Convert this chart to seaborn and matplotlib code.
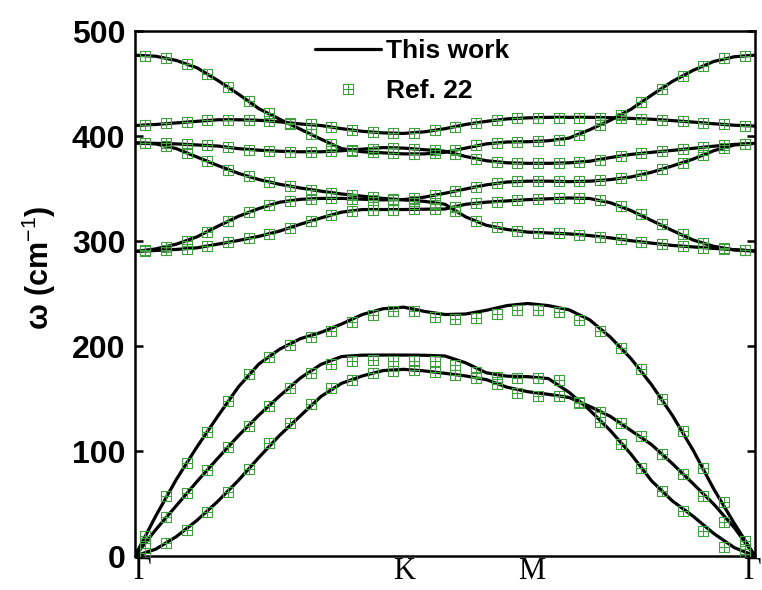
import numpy as np
import seaborn as sns
import matplotlib.pyplot as plt
from matplotlib.path import Path
from matplotlib.lines import Line2D
from matplotlib.transforms import ScaledTranslation

# k-path sampling (fraction of the Gamma-K-M-Gamma path)
q = np.linspace(0, 1, 31)
q_ref = (np.arange(30) + 0.5) / 30

kpoint_pos = [0, 0.4226, 0.634, 1.0]
kpoint_names = ['\u0393', 'K', 'M', '\u0393']

# this work (lines), cm-1
la = [0, 38, 73, 104, 133, 161, 183, 197, 207, 213, 221, 230, 235.5, 237, 233, 230,
      230.5, 234, 238.5, 240.5, 238.5, 234.5, 225, 208.5, 188, 163, 134, 101, 64, 31, 0]
ta = [0, 25, 48, 71, 93, 114.5, 134.3, 152.5, 169.5, 182.5, 190, 191.3, 191.4, 191.4, 191.2,
      190.5, 184, 174.5, 171.3, 170.8, 169, 156, 139, 119.5, 97, 71.5, 52.5, 38, 21.5, 8, 0]
za = [0, 6.5, 18.5, 34, 52, 72, 94, 115, 133.5, 152, 164.5, 171.5, 176.6, 177.8, 176.3, 174,
      171.5, 168, 160.8, 156.5, 154, 151, 142.5, 133, 119.5, 106, 88, 69, 49.5, 27, 0]
opt_a = [477, 476, 472, 465, 453, 440, 426, 416, 406.5, 397, 388, 385, 384, 383, 383, 384.5,
         388.5, 392.5, 394.3, 394.6, 395.5, 398, 406, 415, 425.5, 439, 452, 462.5, 471, 475.5, 477]
opt_b = [393.5, 393, 392.5, 391.5, 390.5, 388, 386.5, 385.5, 385, 385, 386, 387.5, 389, 388.5, 387,
         385.5, 380.5, 376.5, 374.5, 374, 374, 374.5, 376, 379.5, 382.5, 384.5, 386.3, 388.3, 390.3, 392, 393]
opt_c = [410, 411, 412.5, 414, 415.5, 415.5, 415, 413.5, 411.5, 410, 407, 404.5, 403, 402.5, 404,
         407, 411, 414, 416.3, 417.3, 417.8, 417.8, 417.8, 417.5, 416.8, 416, 414.7, 413.3, 411.7, 410.3, 409.5]
opt_d = [393.5, 392.5, 388, 380, 372, 364.5, 358.5, 354, 350.5, 347.5, 344.8, 342.7, 340.6, 339.2, 337.8,
         335, 323, 315, 311, 308.5, 307.7, 306.8, 305.2, 303, 300.3, 298, 295.8, 294.4, 293, 291.8, 290.5]
opt_e = [290, 292.5, 297, 304, 314, 323.5, 331, 337, 339.7, 340.6, 340.6, 339.8, 339.2, 339.5, 341.8,
         345.5, 349.6, 353.5, 356.2, 357, 357, 356.6, 357, 358.5, 361, 365.5, 371.5, 378, 386, 391.5, 393]
opt_f = [290, 291, 292, 293.5, 297, 300.5, 304.5, 309.5, 316, 322, 327.5, 330, 330, 330, 330.3,
         330.5, 335, 337, 338.2, 339.4, 340.2, 341, 340.5, 336.5, 329, 319.5, 310, 301, 295, 291.5, 290.5]

# Ref. 22 (markers), cm-1
ref_la = [19, 57, 89, 118, 148, 173, 190, 201, 208.5, 214.5, 222.5, 230, 233, 233, 228,
          225.5, 227, 230.5, 234, 234.5, 232, 225, 214, 198, 178, 150, 119, 84, 51, 14]
ref_ta = [12, 37, 60, 82, 104, 124, 143, 160, 174, 183, 186, 186.5, 186, 186, 185.5,
          182, 175, 170.5, 170, 170, 168, 146, 128, 107, 84, 62, 42.5, 24, 8.5, 1.5]
ref_za = [3, 12, 25, 42, 61, 83, 108, 127, 145, 160, 168, 174, 176.5, 177, 175,
          172.5, 170, 164, 155, 152.5, 152, 147, 137, 126.5, 114, 97, 78.5, 57, 32, 7]
ref_a = [476.5, 474.5, 469, 459.5, 447, 433.5, 421.5, 411.5, 401.5, 392.5, 386, 384.5, 383.5, 383, 383.5,
         386.5, 391, 393.5, 394.5, 395, 396.5, 401, 410.5, 420.5, 432, 445, 457, 467, 474, 476.5]
ref_b = [393.5, 393, 392, 391, 389.5, 387, 386, 385, 385, 385.5, 386.5, 388, 389, 388, 386.5,
         383, 378.5, 375.5, 374, 374, 374, 375, 377.5, 381, 383.5, 385.5, 387.3, 389.3, 391.2, 392.5]
ref_c = [410.5, 412, 413.5, 415, 415.5, 415.5, 414.5, 412.5, 411, 408.5, 405.5, 403.5, 402.5, 403, 405.5,
         409, 412.5, 415.5, 417, 417.5, 417.5, 417.5, 417.5, 417, 416.5, 415.5, 414, 412.5, 411, 410]
ref_d = [393, 390.5, 384, 376, 368, 361.5, 356, 352, 349, 346, 343.7, 341.5, 340, 338.5, 336.5,
         329, 319, 313, 309.5, 308, 307.3, 306, 304, 301.7, 299, 297, 295, 293.7, 292.3, 291]
ref_e = [291, 294.5, 300.5, 309, 319, 327.5, 334.5, 338.5, 340.2, 340.6, 340.2, 339.5, 339.3, 340.6, 343.7,
         347.5, 351.5, 355, 356.7, 357, 356.8, 356.8, 357.7, 359.7, 363, 368.5, 374.5, 382, 389, 392.5]
ref_f = [290.5, 291.5, 292.7, 295, 298.7, 302.5, 307, 312.7, 319, 325, 329, 330, 330, 330.2, 330.2,
         332.5, 336, 337.6, 338.8, 339.8, 340.6, 340.8, 338.8, 333.5, 325.5, 316, 306.5, 298.5, 293.5, 291]

lines = [la, ta, za, opt_a, opt_b, opt_c, opt_d, opt_e, opt_f]
refs = [ref_la, ref_ta, ref_za, ref_a, ref_b, ref_c, ref_d, ref_e, ref_f]

sns.set_style("ticks")
plt.rcParams['font.family'] = ['Liberation Sans', 'DejaVu Sans']
plt.rcParams['mathtext.fontset'] = 'custom'
plt.rcParams['mathtext.rm'] = 'Liberation Sans'
for key in ['text.color', 'axes.labelcolor', 'xtick.color', 'ytick.color', 'axes.edgecolor']:
    plt.rcParams[key] = 'black'

green = '#3f9f3f'
# square with a cross inside
box_plus = Path([(-1, -1), (1, -1), (1, 1), (-1, 1), (-1, -1), (0, -1), (0, 1), (-1, 0), (1, 0)],
                [Path.MOVETO, Path.LINETO, Path.LINETO, Path.LINETO, Path.LINETO,
                 Path.MOVETO, Path.LINETO, Path.MOVETO, Path.LINETO])

fig = plt.figure(figsize=(7.62, 5.90), dpi=100)
ax = fig.add_axes([0.1772, 0.0576, 0.8136, 0.8898])

for branch in lines:
    sns.lineplot(x=q, y=branch, color='black', linewidth=2.3, sort=False,
                 estimator=None, ax=ax, zorder=2)
for branch in refs:
    sns.lineplot(x=q_ref, y=branch, linestyle='none', marker=box_plus, markersize=6.5,
                 markerfacecolor='none', markeredgecolor=green, markeredgewidth=0.8,
                 sort=False, estimator=None, ax=ax, zorder=3)

ax.set_xlim(0, 1)
ax.set_ylim(0, 500)
ax.set_yticks(range(0, 501, 100))
ax.tick_params(axis='y', direction='in', length=6, width=1.8, right=True,
               labelsize=23, pad=7)
for lbl in ax.get_yticklabels():
    lbl.set_fontweight('bold')

ax.set_xticks(kpoint_pos)
ax.set_xticklabels(kpoint_names, fontfamily='Liberation Serif', fontsize=22)
ax.tick_params(axis='x', length=0, pad=0.5)
label_dx = [7, 7, 4, -3]
for lbl, dx in zip(ax.get_xticklabels(), label_dx):
    lbl.set_transform(lbl.get_transform() + ScaledTranslation(dx / 100, 0, fig.dpi_scale_trans))

for sp in ax.spines.values():
    sp.set_linewidth(1.8)

ax.set_xlabel('')
ax.set_ylabel('\u03c9 (cm$^{-1}$)', fontsize=22, fontweight='bold')
ax.yaxis.set_label_coords(-0.125, 0.55)

h1 = Line2D([], [], color='black', lw=2.3)
h2 = Line2D([], [], ls='none', marker=box_plus, ms=6.5, mfc='none', mec=green, mew=0.8)
ax.legend([h1, h2], ['This work', 'Ref. 22'], loc='upper left', bbox_to_anchor=(0.29, 0.985),
          frameon=False, prop={'weight': 'bold', 'size': 19}, handlelength=2.5,
          handletextpad=0.2, borderpad=0, borderaxespad=0, labelspacing=0.62)

fig.savefig('out.png', dpi=100)
